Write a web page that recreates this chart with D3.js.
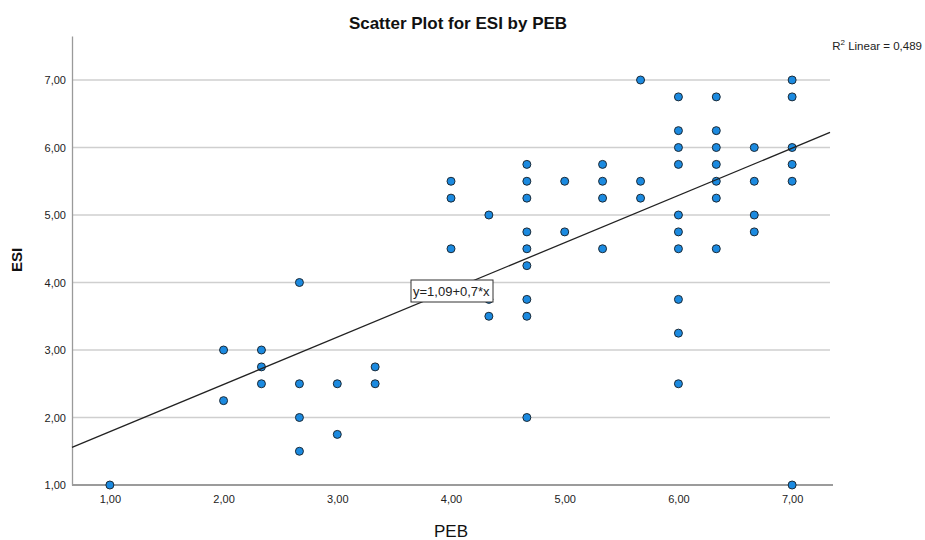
<!DOCTYPE html>
<html>
<head>
<meta charset="utf-8">
<script src="https://cdn.jsdelivr.net/npm/d3@7"></script>
<style>
  body { margin: 0; background: #fff; }
  text { font-family: "Liberation Sans", Arial, sans-serif; }
</style>
</head>
<body>
<div class="graph"></div>
<script>
// values
var peb = [
  1.00,
  2.00, 2.00,
  2.333, 2.333, 2.333,
  2.667, 2.667, 2.667, 2.667,
  3.00, 3.00,
  3.333, 3.333,
  4.00, 4.00, 4.00,
  4.333, 4.333, 4.333,
  4.667, 4.667, 4.667, 4.667, 4.667, 4.667, 4.667, 4.667, 4.667,
  5.00, 5.00,
  5.333, 5.333, 5.333, 5.333,
  5.667, 5.667, 5.667,
  6.00, 6.00, 6.00, 6.00, 6.00, 6.00, 6.00, 6.00, 6.00, 6.00,
  6.333, 6.333, 6.333, 6.333, 6.333, 6.333, 6.333,
  6.667, 6.667, 6.667, 6.667,
  7.00, 7.00, 7.00, 7.00, 7.00, 7.00
];
var esi = [
  1.00,
  3.00, 2.25,
  3.00, 2.75, 2.50,
  4.00, 2.50, 2.00, 1.50,
  2.50, 1.75,
  2.75, 2.50,
  5.50, 5.25, 4.50,
  5.00, 3.75, 3.50,
  5.75, 5.50, 5.25, 4.75, 4.50, 4.25, 3.75, 3.50, 2.00,
  5.50, 4.75,
  5.75, 5.50, 5.25, 4.50,
  7.00, 5.50, 5.25,
  6.75, 6.25, 6.00, 5.75, 5.00, 4.75, 4.50, 3.75, 3.25, 2.50,
  6.75, 6.25, 6.00, 5.75, 5.50, 5.25, 4.50,
  6.00, 5.50, 5.00, 4.75,
  7.00, 6.75, 6.00, 5.75, 5.50, 1.00
];
var xTicks = [1, 2, 3, 4, 5, 6, 7];
var yTicks = [1, 2, 3, 4, 5, 6, 7];
var fitIntercept = 1.09;
var fitSlope = 0.7;
var rSquared = "0,489";

var width = 925, height = 540;

var svg = d3.select(".graph").append("svg")
  .attr("width", width)
  .attr("height", height);

var x = d3.scaleLinear().domain([0.667, 7.333]).range([72, 830]);
var y = d3.scaleLinear().domain([1, 7.652]).range([485, 36]);

var fmt = function (d) { return d.toFixed(2).replace(".", ","); };

// gridlines
svg.append("g")
  .selectAll("line")
  .data(yTicks.filter(function (d) { return d > 1; }))
  .enter().append("line")
  .attr("x1", x.range()[0])
  .attr("x2", x.range()[1])
  .attr("y1", function (d) { return y(d); })
  .attr("y2", function (d) { return y(d); })
  .attr("stroke", "#cfcfcf")
  .attr("stroke-width", 1.3);

// axes
var xAxis = svg.append("g")
  .attr("transform", "translate(0," + y(1) + ")")
  .call(d3.axisBottom(x).tickValues(xTicks).tickFormat(fmt).tickSize(0).tickPadding(10));
xAxis.select(".domain").attr("stroke", "#7a7a7a").attr("stroke-width", 1.3).attr("d", "M72,0H833");

var yAxis = svg.append("g")
  .attr("transform", "translate(" + x.range()[0] + ",0)")
  .call(d3.axisLeft(y).tickValues(yTicks).tickFormat(fmt).tickSize(0).tickPadding(6));
yAxis.select(".domain").attr("stroke", "#9a9a9a").attr("stroke-width", 1.3);

svg.selectAll(".tick text")
  .style("font-family", "'Liberation Sans', Arial, sans-serif")
  .style("font-size", "11px")
  .attr("fill", "#222");

// points
svg.append("g")
  .selectAll("circle")
  .data(peb.map(function (p, i) { return { x: p, y: esi[i] }; }))
  .enter().append("circle")
  .attr("cx", function (d) { return x(d.x); })
  .attr("cy", function (d) { return y(d.y); })
  .attr("r", 4)
  .attr("fill", "#1b8ae0")
  .attr("stroke", "#1c2a36")
  .attr("stroke-width", 1);

// fit line
var xd = x.domain();
svg.append("line")
  .attr("x1", x(xd[0]))
  .attr("y1", y(fitIntercept + fitSlope * xd[0]))
  .attr("x2", x(xd[1]))
  .attr("y2", y(fitIntercept + fitSlope * xd[1]))
  .attr("stroke", "#222")
  .attr("stroke-width", 1.3);

// equation box
var eq = svg.append("g").attr("transform", "translate(411,280)");
eq.append("rect")
  .attr("width", 82)
  .attr("height", 22)
  .attr("fill", "#fff")
  .attr("stroke", "#333")
  .attr("stroke-width", 1);
eq.append("text")
  .attr("x", 2)
  .attr("y", 16)
  .style("font-size", "13px")
  .attr("fill", "#222")
  .text("y=1,09+0,7*x");

// title
svg.append("text")
  .attr("x", 458)
  .attr("y", 29)
  .attr("text-anchor", "middle")
  .style("font-size", "17px")
  .style("font-weight", "bold")
  .attr("fill", "#111")
  .text("Scatter Plot for ESI by PEB");

// R2 label
var r2 = svg.append("text")
  .attr("x", 922)
  .attr("y", 50)
  .attr("text-anchor", "end")
  .style("font-size", "11.5px")
  .attr("fill", "#222");
r2.append("tspan").text("R");
r2.append("tspan").attr("dy", -5).style("font-size", "8px").text("2");
r2.append("tspan").attr("dy", 5).text(" Linear = " + rSquared);

// axis titles
svg.append("text")
  .attr("x", 451)
  .attr("y", 537)
  .attr("text-anchor", "middle")
  .style("font-size", "17px")
  .attr("fill", "#111")
  .text("PEB");

svg.append("text")
  .attr("transform", "translate(22,260) rotate(-90)")
  .attr("text-anchor", "middle")
  .style("font-size", "15px")
  .style("font-weight", "bold")
  .attr("fill", "#111")
  .text("ESI");
</script>
</body>
</html>
